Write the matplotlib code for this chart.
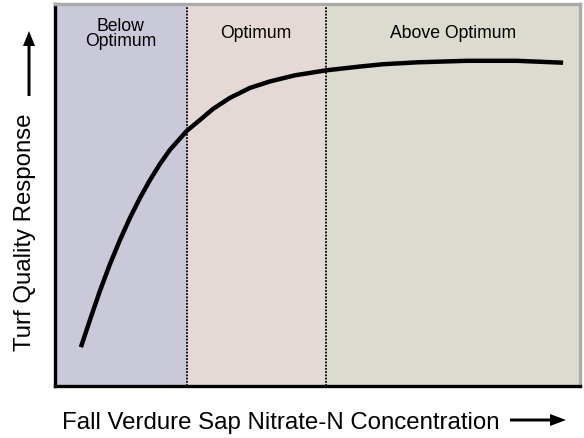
import numpy as np
import matplotlib.pyplot as plt
from matplotlib.patches import FancyArrow

plt.rcParams['font.family'] = ['Liberation Sans', 'DejaVu Sans']

# curve (x, y in 0-100 units)
curve_x = [4.95, 6.67, 8.57, 10.48, 12.38, 14.29, 16.19, 18.1, 20.0, 21.9, 25.14,
           27.6, 30.1, 33.33, 37.14, 40.95, 45.71, 51.62, 58.1, 62.5, 68.95, 78.5,
           88.0, 96.8]
curve_y = [10.2, 17.3, 24.9, 31.9, 38.2, 44.0, 49.2, 53.9, 58.1, 61.8, 66.8,
           69.6, 72.5, 75.4, 78.0, 79.7, 81.3, 82.6, 83.6, 84.2, 84.7, 85.1,
           85.1, 84.6]

zone_edges = [0, 25.1, 51.6, 100]
zone_names = ['Below\nOptimum', 'Optimum', 'Above Optimum']
zone_colors = ['#c9c9d9', '#e5d9d5', '#dbdbcf']

fig = plt.figure(figsize=(5.84, 4.39), dpi=100)
ax = fig.add_axes([0.094, 0.118, 0.899, 0.871])

for i in range(len(zone_names)):
    ax.axvspan(zone_edges[i], zone_edges[i+1], color=zone_colors[i], lw=0, zorder=0)
    ax.text((zone_edges[i] + zone_edges[i+1]) / 2, 92.4, zone_names[i],
            ha='center', va='center', fontsize=12.7, linespacing=0.9)

for xv in zone_edges[1:-1]:
    ax.axvline(xv, color='black', lw=1.3, ls=(0, (1, 0.8)), zorder=2)

ax.plot(curve_x, curve_y, color='black', lw=3.2, solid_capstyle='butt',
        solid_joinstyle='round', zorder=3)

ax.set_xlim(0, 100)
ax.set_ylim(0, 100)
ax.set_xticks([])
ax.set_yticks([])
for s in ['left', 'bottom']:
    ax.spines[s].set_linewidth(2.4)
    ax.spines[s].set_color('black')
for s in ['top', 'right']:
    ax.spines[s].set_linewidth(2.4)
    ax.spines[s].set_color('#aaaaaa')

# axis labels with arrows
fig.text(62 / 584, 1 - 423 / 439, 'Fall Verdure Sap Nitrate-N Concentration',
         ha='left', va='center', fontsize=17.3)
fig.text(25 / 584, 1 - 232 / 439, 'Turf Quality Response',
         ha='center', va='center', rotation=90, fontsize=17.3)
fig.patches.append(FancyArrow(
    510 / 584, 1 - 421 / 439, 56 / 584, 0, width=3 / 439, head_width=12 / 439,
    head_length=16 / 584, length_includes_head=True, color='black', lw=0,
    transform=fig.transFigure))
fig.patches.append(FancyArrow(
    29 / 584, 1 - 97 / 439, 0, 65 / 439, width=3 / 584, head_width=12 / 584,
    head_length=15 / 439, length_includes_head=True, color='black', lw=0,
    transform=fig.transFigure))

plt.savefig('out.png', dpi=100)
